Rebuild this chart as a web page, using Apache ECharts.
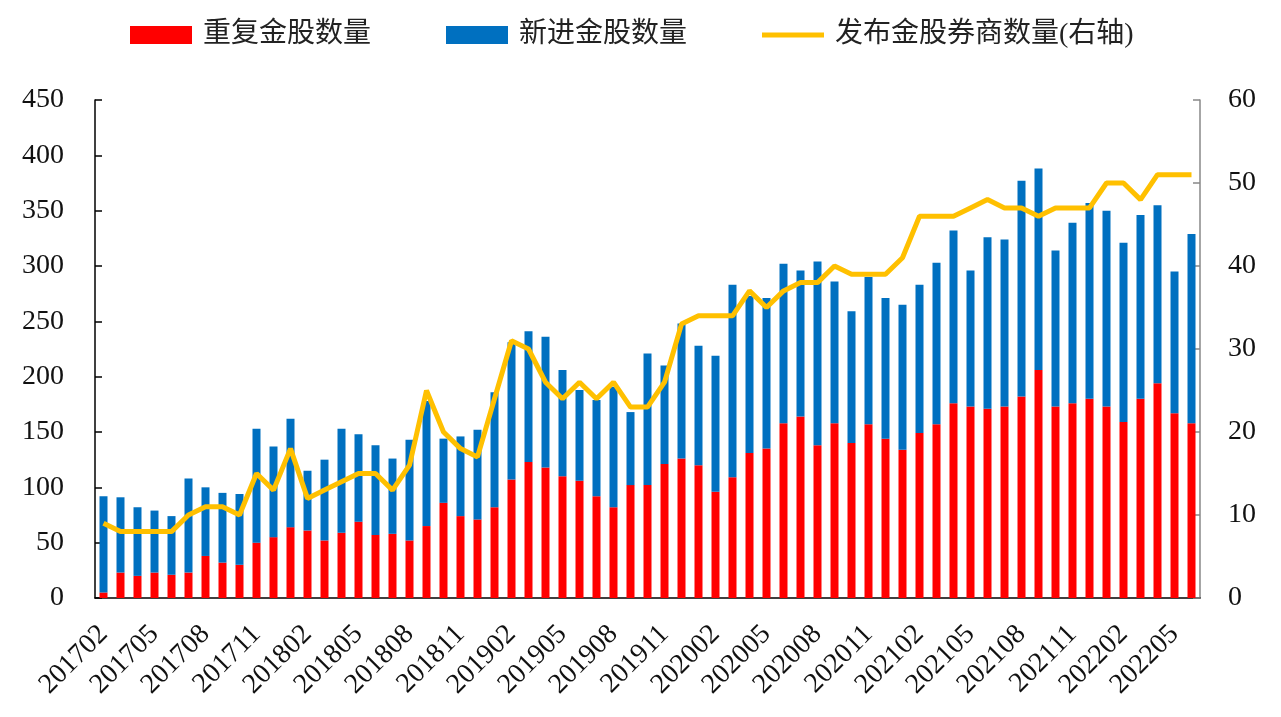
<!DOCTYPE html>
<html>
<head>
<meta charset="utf-8">
<script src="https://cdn.jsdelivr.net/npm/echarts@6/dist/echarts.min.js"></script>
<style>html,body{margin:0;padding:0;background:#fff;}#c{width:1281px;height:717px;}</style>
</head>
<body>
<div id="c"></div>
<script>
var categories = ['201702','201703','201704','201705','201706','201707','201708','201709','201710','201711','201712',
'201801','201802','201803','201804','201805','201806','201807','201808','201809','201810','201811','201812',
'201901','201902','201903','201904','201905','201906','201907','201908','201909','201910','201911','201912',
'202001','202002','202003','202004','202005','202006','202007','202008','202009','202010','202011','202012',
'202101','202102','202103','202104','202105','202106','202107','202108','202109','202110','202111','202112',
'202201','202202','202203','202204','202205','202206'];
var repeatCount = [5,23,20,23,21,23,38,32,30,50,55,64,61,52,59,69,57,58,52,65,86,74,71,82,107,123,118,110,106,92,82,102,102,121,126,120,96,109,131,135,158,164,138,158,140,157,144,134,149,157,176,173,171,173,182,206,173,176,180,173,159,180,194,167,158];
var newCount = [87,68,62,56,53,85,62,63,64,103,82,98,54,73,94,79,81,68,91,113,58,72,81,104,124,118,118,96,82,87,109,66,119,89,122,108,123,174,142,136,144,132,166,128,119,133,127,131,134,146,156,123,155,151,195,182,141,163,177,177,162,166,161,128,171];
var brokerCount = [9,8,8,8,8,10,11,11,10,15,13,18,12,13,14,15,15,13,16,25,20,18,17,24,31,30,26,24,26,24,26,23,23,26,33,34,34,34,37,35,37,38,38,40,39,39,39,41,46,46,46,47,48,47,47,46,47,47,47,50,50,48,51,51,51];
var leftTicks = {min:0, max:450, interval:50};
var rightTicks = {min:0, max:60, interval:10};

var serif = '"Liberation Serif","Times New Roman",serif';
var cjk = '"Liberation Serif","Noto Sans CJK SC",serif';
var chart = echarts.init(document.getElementById('c'));
chart.setOption({
  animation:false,
  backgroundColor:'#fff',
  legend:{
    top:16, left:125, itemGap:75, itemWidth:62, itemHeight:18,
    textStyle:{fontFamily:cjk, fontSize:28, color:'#222', padding:[0,0,0,6]},
    data:[{name:'重复金股数量', icon:'rect'},{name:'新进金股数量', icon:'rect'},
          {name:'发布金股券商数量(右轴)', icon:'path://M0,0H62V5H0Z'}]
  },
  grid:{left:95, right:81, top:100, bottom:119, containLabel:false},
  xAxis:{
    type:'category', data:categories, boundaryGap:true,
    axisLine:{lineStyle:{color:'#000', width:1.5}},
    axisTick:{inside:true, length:6, interval:0, lineStyle:{color:'#000', width:1.5}},
    axisLabel:{interval:2, rotate:45, margin:32, fontFamily:serif, fontSize:28, color:'#111'}
  },
  yAxis:[{
    type:'value', min:leftTicks.min, max:leftTicks.max, interval:leftTicks.interval,
    splitLine:{show:false},
    axisLine:{show:true, lineStyle:{color:'#000', width:1.5}},
    axisTick:{show:true, inside:true, length:7, lineStyle:{color:'#000', width:1.5}},
    axisLabel:{margin:31, fontFamily:serif, fontSize:28, color:'#111'}
  },{
    type:'value', min:rightTicks.min, max:rightTicks.max, interval:rightTicks.interval,
    splitLine:{show:false},
    axisLine:{show:true, lineStyle:{color:'#888', width:1.5}},
    axisTick:{show:true, inside:true, length:7, lineStyle:{color:'#888', width:1.5}},
    axisLabel:{margin:28, fontFamily:serif, fontSize:28, color:'#111'}
  }],
  series:[
    {name:'重复金股数量', type:'bar', stack:'s', data:repeatCount, barWidth:8, itemStyle:{color:'#FF0000'}},
    {name:'新进金股数量', type:'bar', stack:'s', data:newCount, barWidth:8, itemStyle:{color:'#0070C0'}},
    {name:'发布金股券商数量(右轴)', type:'line', yAxisIndex:1, data:brokerCount, symbol:'none', z:5,
     lineStyle:{color:'#FFC000', width:5}, itemStyle:{color:'#FFC000'}}
  ]
});
</script>
</body>
</html>
